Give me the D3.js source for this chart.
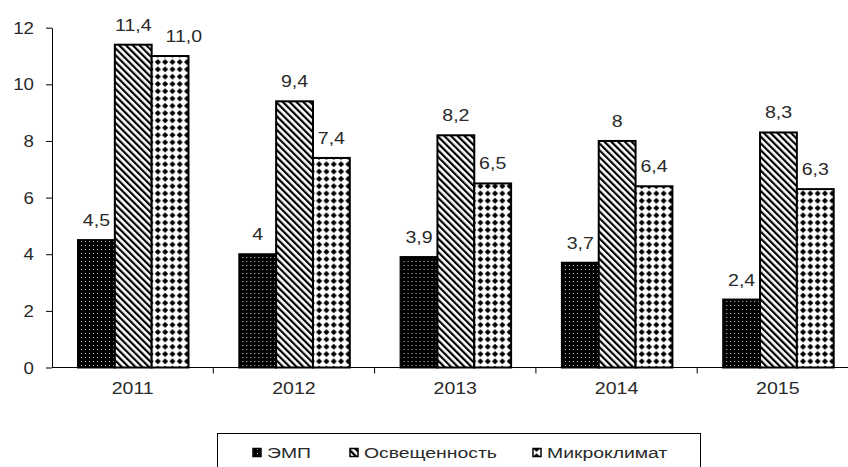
<!DOCTYPE html>
<head>
	<meta charset="utf-8">
	<title>Bars</title>
</head>
<style>
body { margin: 0; background: #fff; }
text { font-family: "Liberation Sans", Arial, sans-serif; fill: #2a2a2a; }
</style>
<svg id="svg" width="848" height="467"></svg>
<script src="https://cdn.jsdelivr.net/npm/d3@7"></script>
<script>

var years = ["2011", "2012", "2013", "2014", "2015"];
var seriesNames = ["ЭМП", "Освещенность", "Микроклимат"];
var emp = [4.5, 4, 3.9, 3.7, 2.4];
var light = [11.4, 9.4, 8.2, 8, 8.3];
var climate = [11.0, 7.4, 6.5, 6.4, 6.3];
var labels = [
  ["4,5", "4", "3,9", "3,7", "2,4"],
  ["11,4", "9,4", "8,2", "8", "8,3"],
  ["11,0", "7,4", "6,5", "6,4", "6,3"]
];
var yTicks = [0, 2, 4, 6, 8, 10, 12];

var svg = d3.select("svg");
var values = [emp, light, climate];
var patternIds = ["pEmp", "pLight", "pClimate"];
var stretch = 1.15;   // the source text is a bit wide

// text placed at (x,y), widened horizontally
function wideText(parent, x, y, str, size, anchor, fill, sx) {
  var g = parent.append("g")
      .attr("transform", "translate(" + x + "," + y + ") scale(" + (sx || stretch) + ",1)");
  g.append("text")
      .attr("text-anchor", anchor)
      .style("font-size", size + "px")
      .attr("fill", fill || "#2a2a2a")
      .text(str);
  return g;
}

// patterns
var defs = svg.append("defs");

var p1 = defs.append("pattern").attr("id", "pEmp")
    .attr("patternUnits", "userSpaceOnUse").attr("width", 4).attr("height", 4);
p1.append("rect").attr("width", 4).attr("height", 4).attr("fill", "#000");
p1.append("rect").attr("x", 1).attr("y", 1).attr("width", 1).attr("height", 1).attr("fill", "#ccc");

var p2 = defs.append("pattern").attr("id", "pLight")
    .attr("patternUnits", "userSpaceOnUse").attr("width", 4.8).attr("height", 4.8)
    .attr("patternTransform", "rotate(-45)");
p2.append("rect").attr("width", 4.8).attr("height", 4.8).attr("fill", "#fff");
p2.append("rect").attr("width", 2.2).attr("height", 4.8).attr("fill", "#000");

var p3 = defs.append("pattern").attr("id", "pClimate")
    .attr("patternUnits", "userSpaceOnUse").attr("width", 7.3).attr("height", 7.3);
p3.append("rect").attr("width", 7.3).attr("height", 7.3).attr("fill", "#fff");
p3.append("path").attr("d", "M3.65,0.6 L6.7,3.65 L3.65,6.7 L0.6,3.65 Z").attr("fill", "#000");

var x0 = d3.scaleBand().domain(years).range([52, 858.5]).padding(0);
var x1 = d3.scaleBand().domain(seriesNames).range([26, 136.5]).padding(0);
var y = d3.scaleLinear().domain([0, 12]).range([367.5, 27.7]);

// y axis
var yAxis = svg.append("g")
    .attr("transform", "translate(52,0)")
    .call(d3.axisLeft(y).tickValues(yTicks).tickSize(6).tickSizeOuter(0).tickFormat(""));
yAxis.select(".domain").attr("stroke", "#000");
yAxis.selectAll("line").attr("stroke", "#000");

yTicks.forEach(function(t) {
  wideText(svg, 34, y(t) + 6, t, 17, "end", "#2a2a2a", 1.1);
});

// bars
var groups = svg.append("g").selectAll("g")
    .data(years)
    .enter().append("g")
      .attr("transform", function(d) { return "translate(" + x0(d) + ",0)"; });

seriesNames.forEach(function(s, si) {
  groups.append("rect")
      .attr("x", x1(s))
      .attr("y", function(d, i) { return y(values[si][i]); })
      .attr("width", x1.bandwidth())
      .attr("height", function(d, i) { return y(0) - y(values[si][i]); })
      .attr("fill", "url(#" + patternIds[si] + ")")
      .attr("stroke", "#000")
      .attr("stroke-width", 2);
});

// value labels; push a label right if it runs into the one before it
groups.each(function(d, i) {
  var g = d3.select(this);
  var prev = null;
  seriesNames.forEach(function(s, si) {
    var cx = x1(s) + x1.bandwidth() / 2;
    var cy = y(values[si][i]) - 14;
    var lab = wideText(g, cx, cy, labels[si][i], 17, "middle", "#333");
    var w = lab.node().getBBox().width * stretch;
    var box = { x0: cx - w / 2, x1: cx + w / 2, y0: cy - 13, y1: cy };
    if (prev && box.x0 < prev.x1 + 4 && box.y0 < prev.y1 && box.y1 > prev.y0) {
      var shift = prev.x1 + 14 - box.x0;
      cx += shift;
      box.x0 += shift; box.x1 += shift;
      lab.attr("transform", "translate(" + cx + "," + cy + ") scale(" + stretch + ",1)");
    }
    prev = box;
  });
});

// x axis
var xAxis = svg.append("g")
    .attr("transform", "translate(0," + y(0) + ")");
xAxis.append("line")
    .attr("x1", 52).attr("x2", 848)
    .attr("stroke", "#000");
xAxis.selectAll(".tk")
    .data(years.slice(1))
    .enter().append("line")
      .attr("x1", function(d) { return x0(d); })
      .attr("x2", function(d) { return x0(d); })
      .attr("y2", 6)
      .attr("stroke", "#000");
years.forEach(function(d) {
  wideText(xAxis, x0(d) + x0.bandwidth() / 2, 26.5, d, 17, "middle");
});

// legend
var legend = svg.append("g");
legend.append("rect")
    .attr("x", 217.5).attr("y", 433.5)
    .attr("width", 483).attr("height", 60)
    .attr("fill", "#fff").attr("stroke", "#000");

var legendX = [253, 350, 533];
seriesNames.forEach(function(s, si) {
  legend.append("rect")
      .attr("x", legendX[si]).attr("y", 448.5)
      .attr("width", 8).attr("height", 8)
      .attr("fill", "url(#" + patternIds[si] + ")")
      .attr("stroke", "#000").attr("stroke-width", 1.5);
  wideText(legend, legendX[si] + 14, 457.5, s, 15.5, "start", "#2a2a2a", 1.25);
});

</script>
